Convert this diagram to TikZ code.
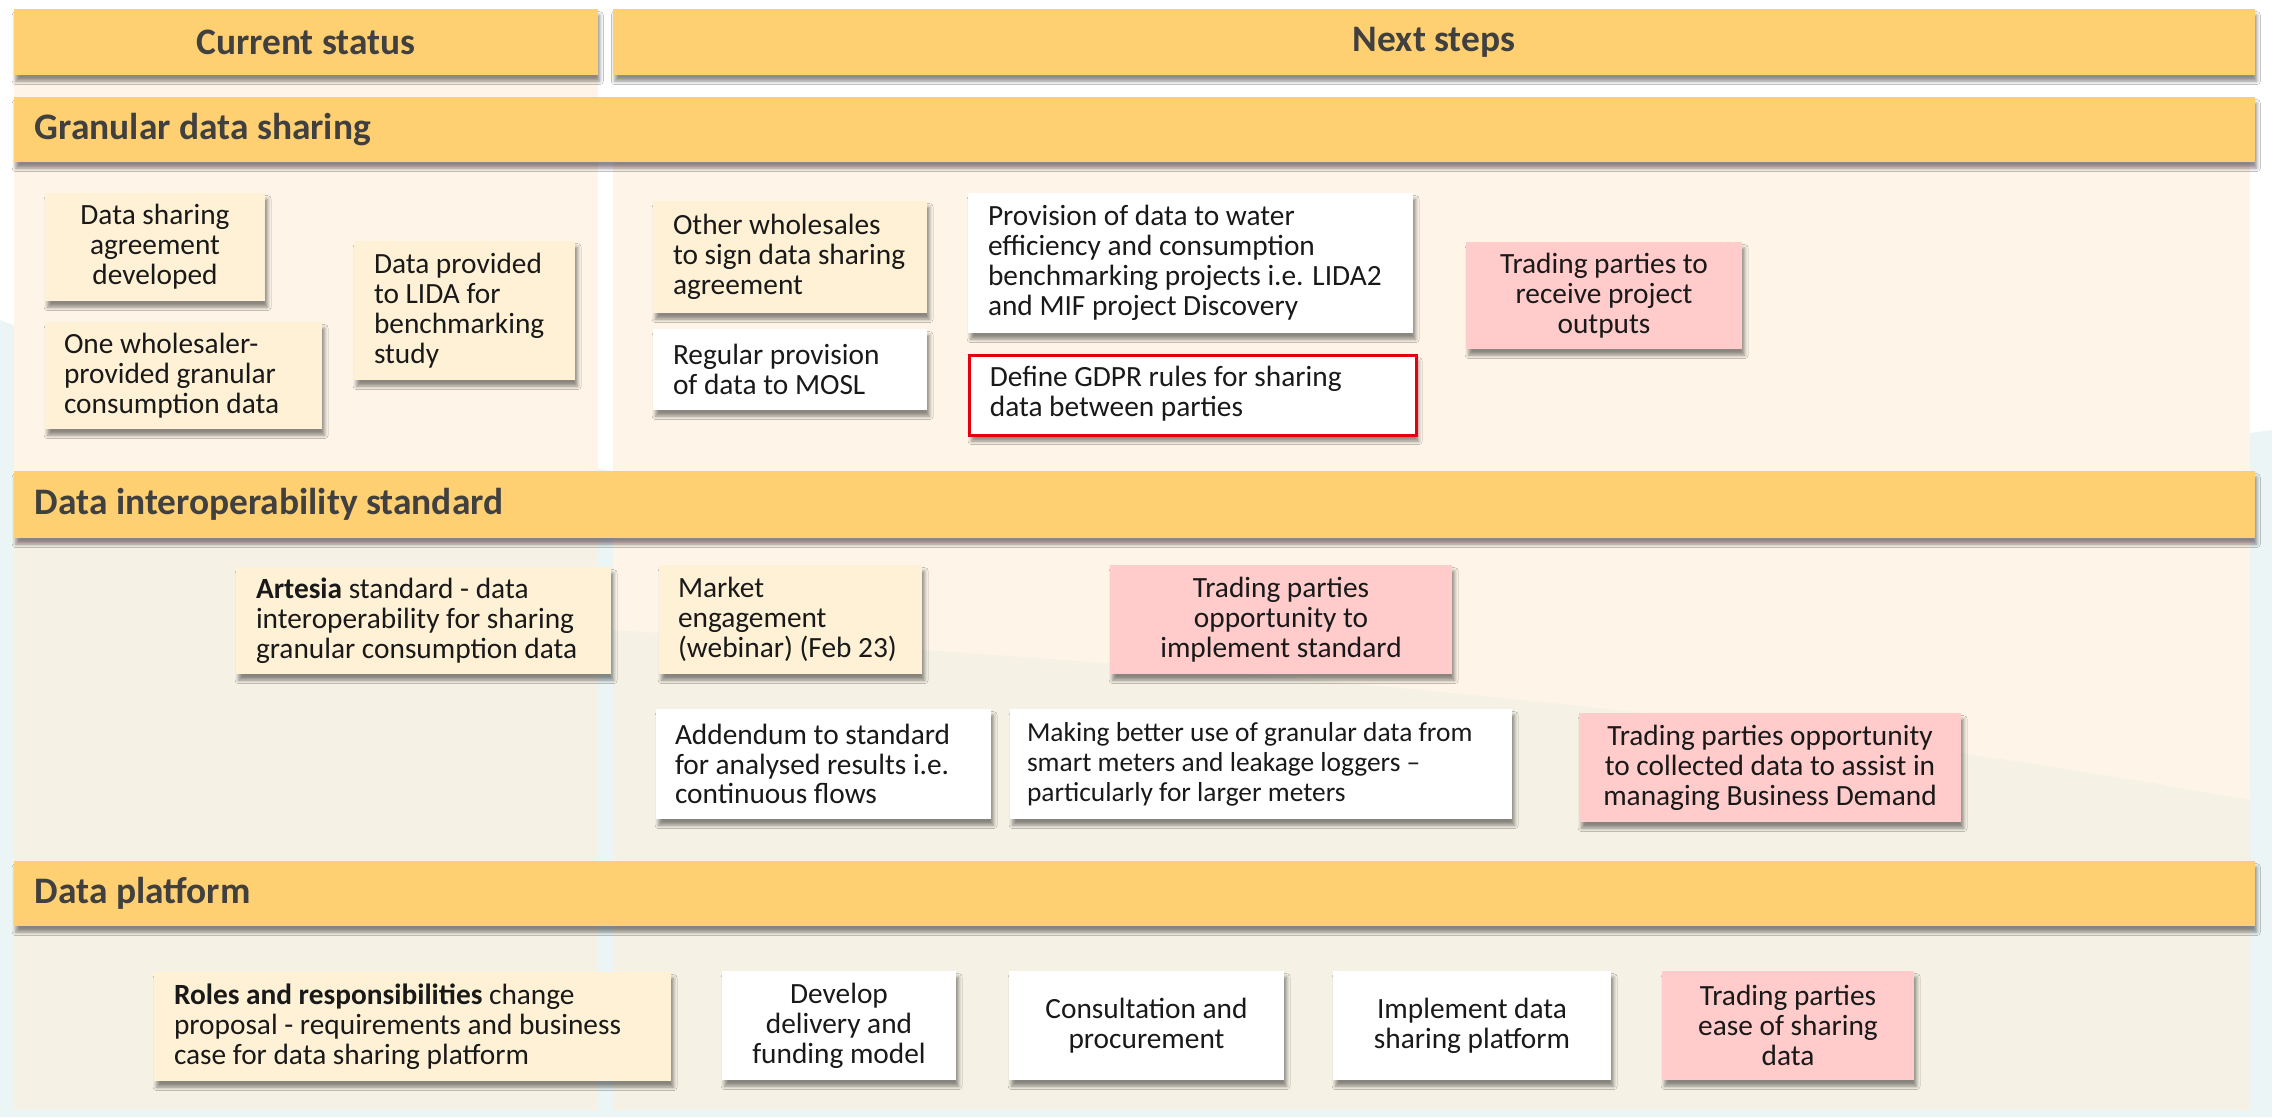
\documentclass[tikz,border=0pt]{standalone}
\usepackage{fontspec}
\setmainfont{Carlito}
\usetikzlibrary{fit,shadows.blur}

\definecolor{barorange}{HTML}{FFD071}
\definecolor{headgray}{HTML}{404040}
\definecolor{creamcard}{HTML}{FFF1D5}
\definecolor{pinkcard}{HTML}{FFCBCB}
\definecolor{panelcream}{HTML}{FEF5E8}
\definecolor{panelbeige}{HTML}{F5F2E5}
\definecolor{bgblue}{HTML}{EBF5F5}
\definecolor{gdprred}{HTML}{E3000F}

\tikzset{
  bar/.style={fill=barorange, inner sep=0pt,
    blur shadow={shadow xshift=1pt, shadow yshift=-3.5pt, shadow blur radius=2pt, shadow opacity=45}},
  bartext/.style={text=headgray, font=\fontsize{21.3}{24}\selectfont\bfseries},
  card/.style={inner sep=0pt,
    blur shadow={shadow xshift=1.5pt, shadow yshift=-3.5pt, shadow blur radius=2pt, shadow opacity=45}},
  creambox/.style={card, fill=creamcard},
  whitebox/.style={card, fill=white},
  pinkbox/.style={card, fill=pinkcard},
  cardtext/.style={inner sep=0pt, text=black!90, font=\fontsize{16.7}{17}\selectfont},
  lefttext/.style={cardtext, align=left, anchor=west},
  midtext/.style={cardtext, align=center},
}

\begin{document}
\begin{tikzpicture}[x=0.02cm, y=-0.02cm]
  \useasboundingbox (0,0) rectangle (2272,1117);
  % page background and column panels
  \fill[white] (0,0) rectangle (2272,1117);
  \fill[bgblue] (0,320) .. controls (600,560) and (1500,540) .. (2272,430) -- (2272,1117) -- (0,1117) -- cycle;
  \fill[panelcream] (14,75) rectangle (598,471);
  \fill[panelcream] (613,97) rectangle (2250,471);
  \fill[panelbeige] (14,538) rectangle (598,861);
  \fill[panelcream] (613,538) rectangle (2250,861);
  \fill[panelbeige] (613,630) .. controls (1100,660) and (1700,700) .. (2250,800) -- (2250,861) -- (613,861) -- cycle;
  \fill[panelbeige] (14,926) rectangle (598,1110);
  \fill[panelbeige] (613,926) rectangle (2250,1110);

  % column headers
  \node[bar, fit={(14,9) (598,75)}] (current) {};
  \node[bartext] (currenttext) at (current.center) {Current status};
  \node[bar, fit={(613,9) (2255,75)}] (next) {};
  \node[bartext] (nexttext) at (next.center) {Next steps};

  % section bars
  \node[bar, fit={(14,97) (2255,162)}] (granular) {};
  \node[bartext, anchor=west] (granulartext) at ([xshift=15*0.02cm]granular.west) {Granular data sharing};
  \node[bar, fit={(14,471) (2255,538)}] (interop) {};
  \node[bartext, anchor=west] (interoptext) at ([xshift=15*0.02cm]interop.west) {Data interoperability standard};
  \node[bar, fit={(14,861) (2255,926)}] (dataplat) {};
  \node[bartext, anchor=west] (dataplattext) at ([xshift=15*0.02cm]dataplat.west) {Data platform};

  % granular data sharing
  \node[creambox, fit={(45,193) (265,301)}] (dsa) {};
  \node[midtext] (dsatext) at (dsa.center) {Data sharing\\agreement\\developed};
  \node[creambox, fit={(45,322) (322,429)}] (onews) {};
  \node[lefttext] (onewstext) at ([xshift=19*0.02cm]onews.west) {One wholesaler-\\provided granular\\consumption data};
  \node[creambox, fit={(354,241) (575,380)}] (lida) {};
  \node[lefttext] (lidatext) at ([xshift=20*0.02cm]lida.west) {Data provided\\to LIDA for\\benchmarking\\study};
  \node[creambox, fit={(653,201) (927,313)}] (otherws) {};
  \node[lefttext] (otherwstext) at ([xshift=20*0.02cm]otherws.west) {Other wholesales\\to sign data sharing\\agreement};
  \node[whitebox, fit={(653,329) (927,410)}] (mosl) {};
  \node[lefttext] (mosltext) at ([xshift=20*0.02cm]mosl.west) {Regular provision\\of data to MOSL};
  \node[whitebox, fit={(968,193) (1413,333)}] (watereff) {};
  \node[lefttext] (waterefftext) at ([xshift=20*0.02cm]watereff.west) {Provision of data to water\\efficiency and consumption\\benchmarking projects i.e. LIDA2\\and MIF project Discovery};
  \node[whitebox, draw=gdprred, line width=1.7pt, fit={(969,355) (1416,435)}] (gdpr) {};
  \node[lefttext] (gdprtext) at ([xshift=22*0.02cm, yshift=1pt]gdpr.west) {Define GDPR rules for sharing\\data between parties};
  \node[pinkbox, fit={(1466,242) (1742,349)}] (outputs) {};
  \node[midtext] (outputstext) at (outputs.center) {Trading parties to\\receive project\\outputs};

  % data interoperability standard
  \node[creambox, fit={(236,567) (611,674)}] (artesia) {};
  \node[lefttext] (artesiatext) at ([xshift=20*0.02cm]artesia.west) {\textbf{Artesia} standard - data\\interoperability for sharing\\granular consumption data};
  \node[creambox, fit={(659,565) (922,674)}] (market) {};
  \node[lefttext] (markettext) at ([xshift=19*0.02cm]market.west) {Market\\engagement\\(webinar) (Feb 23)};
  \node[pinkbox, fit={(1110,565) (1452,674)}] (implement) {};
  \node[midtext] (implementtext) at (implement.center) {Trading parties\\opportunity to\\implement standard};
  \node[whitebox, fit={(656,709) (991,819)}] (addendum) {};
  \node[lefttext] (addendumtext) at ([xshift=19*0.02cm]addendum.west) {Addendum to standard\\for analysed results i.e.\\continuous flows};
  \node[whitebox, fit={(1010,709) (1512,819)}] (smart) {};
  \node[lefttext, font=\fontsize{15.6}{17}\selectfont] (smarttext) at ([xshift=17*0.02cm]smart.west) {Making better use of granular data from\\smart meters and leakage loggers –\\particularly for larger meters};
  \node[pinkbox, fit={(1579,713) (1961,822)}] (demand) {};
  \node[midtext] (demandtext) at (demand.center) {Trading parties opportunity\\to collected data to assist in\\managing Business Demand};

  % data platform
  \node[creambox, fit={(154,972) (671,1081)}] (roles) {};
  \node[lefttext] (rolestext) at ([xshift=20*0.02cm]roles.west) {\textbf{Roles and responsibilities} change\\proposal - requirements and business\\case for data sharing platform};
  \node[whitebox, fit={(722,971) (956,1080)}] (develop) {};
  \node[midtext] (developtext) at (develop.center) {Develop\\delivery and\\funding model};
  \node[whitebox, fit={(1009,971) (1284,1080)}] (consult) {};
  \node[midtext] (consulttext) at (consult.center) {Consultation and\\procurement};
  \node[whitebox, fit={(1333,971) (1611,1080)}] (platform) {};
  \node[midtext] (platformtext) at (platform.center) {Implement data\\sharing platform};
  \node[pinkbox, fit={(1662,971) (1914,1080)}] (ease) {};
  \node[midtext] (easetext) at (ease.center) {Trading parties\\ease of sharing\\data};
\end{tikzpicture}
\end{document}
